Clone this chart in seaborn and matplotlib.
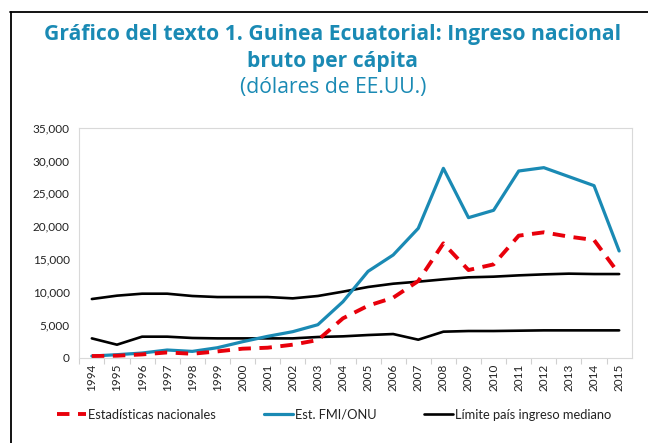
import matplotlib
matplotlib.use("Agg")
import matplotlib.pyplot as plt
from matplotlib.lines import Line2D
import seaborn as sns
import numpy as np

years = list(range(1994, 2016))
estad_nacionales = [250, 300, 500, 800, 600, 960, 1370, 1520, 1980, 2690, 5990, 7910,
                    9130, 11670, 17400, 13340, 14200, 18570, 19080, 18420, 17910, 12730]
fmi_onu = [250, 460, 710, 1170, 960, 1520, 2430, 3250, 3960, 5020, 8520, 13140,
           15630, 19690, 28820, 21310, 22430, 28410, 28920, 27550, 26180, 16240]
limite_superior = [8930, 9440, 9740, 9740, 9390, 9230, 9230, 9230, 9030, 9390, 10050, 10760,
                   11260, 11570, 11920, 12230, 12330, 12530, 12680, 12790, 12730, 12730]
limite_inferior = [2940, 1980, 3200, 3200, 3000, 2940, 2940, 2940, 2940, 3150, 3250, 3450,
                   3600, 2740, 3960, 4060, 4060, 4110, 4160, 4160, 4160, 4160]
yticks = [0, 5000, 10000, 15000, 20000, 25000, 30000, 35000]
labels = ["Estadísticas nacionales", "Est. FMI/ONU", "Límite país ingreso mediano"]

sns.set_theme(style="white")
plt.rcParams['font.family'] = ['Lato', 'DejaVu Sans']

W, H = 648, 443
fig = plt.figure(figsize=(W / 100, H / 100), dpi=100)
ax = fig.add_axes([79.3 / W, 1 - 357.7 / H, (631.7 - 79.3) / W, (357.7 - 127.7) / H])

TEAL = "#1a8ab4"
RED = "#e8000b"

sns.lineplot(x=years, y=limite_superior, ax=ax, color="black", lw=1.9)
sns.lineplot(x=years, y=limite_inferior, ax=ax, color="black", lw=1.9)
sns.lineplot(x=years, y=fmi_onu, ax=ax, color=TEAL, lw=2.3)
sns.lineplot(x=years, y=estad_nacionales, ax=ax, color=RED, lw=2.8)
ax.lines[-1].set_dashes([3.2, 2.2])

ax.set_xlim(1993.5, 2015.5)
ax.set_ylim(0, 35000)
ax.set_xticks(years)
ax.set_xticklabels([str(y) for y in years], rotation=90, fontsize=8.5, color="#222222")
ax.set_xticks([y + 0.5 for y in years[:-1]] + [1993.5], minor=True)
ax.tick_params(axis="x", which="major", length=0, pad=4)
ax.tick_params(axis="x", which="minor", length=4, width=0.8, color="#d0d0d0", bottom=True)
ax.set_yticks(yticks)
ax.set_yticklabels([f"{v:,}" for v in yticks], fontsize=8.5, color="#222222")
ax.tick_params(axis="y", length=0, pad=7)
for s in ax.spines.values():
    s.set_color("#d9d9d9")
    s.set_linewidth(0.8)
ax.grid(False)

# Titles
tfam = ['Open Sans', 'DejaVu Sans']
fig.text(333 / W, 1 - 40 / H, "Gráfico del texto 1. Guinea Ecuatorial: Ingreso nacional",
         ha="center", va="baseline", fontsize=15.2, fontweight="bold", color=TEAL, family=tfam)
fig.text(333 / W, 1 - 67 / H, "bruto per cápita",
         ha="center", va="baseline", fontsize=15.2, fontweight="bold", color=TEAL, family=tfam)
fig.text(333 / W, 1 - 93.5 / H, "(dólares de EE.UU.)",
         ha="center", va="baseline", fontsize=15.2, color=TEAL, family=tfam)

# Legend
handles = [Line2D([], [], color=RED, lw=2.8, dashes=[3.2, 2.2]),
           Line2D([], [], color=TEAL, lw=2.3),
           Line2D([], [], color="black", lw=1.9)]
fig.legend(handles, labels, ncol=3, frameon=False, fontsize=9.3,
           loc="center left", bbox_to_anchor=(57 / W, 1 - 414.7 / H),
           borderpad=0, borderaxespad=0, handlelength=2.25, handletextpad=0.15,
           columnspacing=3.7, labelcolor="#222222")

# Outer border (left and top)
fig.add_artist(Line2D([10.5 / W, 10.5 / W], [0, 1 - 11.5 / H], color="black", lw=1.3,
                      transform=fig.transFigure))
fig.add_artist(Line2D([10 / W, 1], [1 - 11.5 / H, 1 - 11.5 / H], color="black", lw=1.3,
                      transform=fig.transFigure))

fig.savefig("out.png", dpi=100)
